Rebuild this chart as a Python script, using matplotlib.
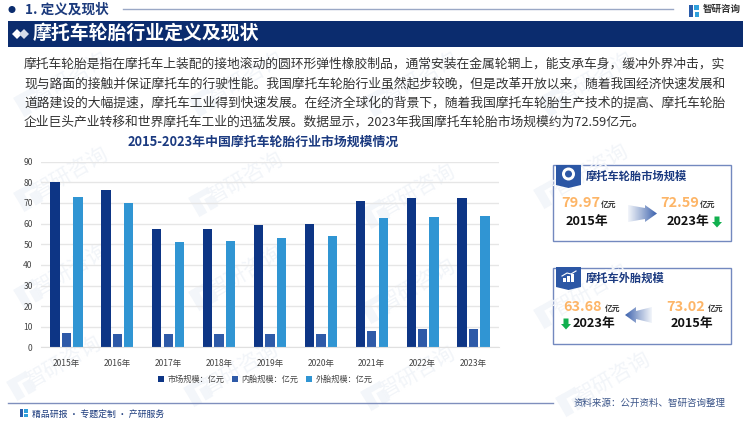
import numpy as np
import matplotlib
matplotlib.use('Agg')
from matplotlib import pyplot as plt
from matplotlib.patches import Polygon, Rectangle, Circle

plt.rcParams['font.family'] = ['Noto Sans CJK SC', 'DejaVu Sans']

years = ['2015年', '2016年', '2017年', '2018年', '2019年', '2020年', '2021年', '2022年', '2023年']
market = [79.97, 76.2, 57.2, 57.5, 59.1, 60.0, 71.0, 72.2, 72.59]
inner = [7.0, 6.5, 6.5, 6.5, 6.5, 6.5, 8.1, 8.9, 8.9]
outer = [73.02, 70.0, 51.0, 51.5, 53.0, 53.9, 62.8, 63.4, 63.68]
series_names = ['市场规模：亿元', '内胎规模：亿元', '外胎规模：亿元']
y_ticks = [0, 10, 20, 30, 40, 50, 60, 70, 80, 90]

body_lines = [
    '摩托车轮胎是指在摩托车上装配的接地滚动的圆环形弹性橡胶制品，通常安装在金属轮辋上，能支承车身，缓冲外界冲击，实',
    '现与路面的接触并保证摩托车的行驶性能。我国摩托车轮胎行业虽然起步较晚，但是改革开放以来，随着我国经济快速发展和',
    '道路建设的大幅提速，摩托车工业得到快速发展。在经济全球化的背景下，随着我国摩托车轮胎生产技术的提高、摩托车轮胎',
    '企业巨头产业转移和世界摩托车工业的迅猛发展。数据显示，2023年我国摩托车轮胎市场规模约为72.59亿元。',
]

NAVY = '#0B2C6E'
DARK = '#0D3585'
MID = '#2E5AA8'
LIGHT = '#3095D3'
ORANGE = '#FDB567'
GREEN = '#12B04F'
BORDER = '#7389BF'

fig = plt.figure(figsize=(7.5, 4.21), dpi=100)

# page layer in pixel coordinates
bg = fig.add_axes([0, 0, 1, 1], zorder=0)
bg.set_xlim(0, 750)
bg.set_ylim(421, 0)
bg.axis('off')


def watermark(x, y):
    bg.text(x, y, '智研咨询', fontsize=15, color='#F2F5F9', rotation=30, ha='center', va='center')
    # little bracket logo next to the text
    a = np.radians(30)
    cx, cy = x - 48 * np.cos(a), y + 48 * np.sin(a)
    for dx, dy, w, h in [(-11, -11, 9, 22), (-11, -11, 22, 6), (2, -2, 9, 13)]:
        pts = np.array([[dx, dy], [dx + w, dy], [dx + w, dy + h], [dx, dy + h]], float)
        rot = np.array([[np.cos(a), np.sin(a)], [-np.sin(a), np.cos(a)]])
        bg.add_patch(Polygon(pts @ rot.T + [cx, cy], color='#F3F6FA', lw=0))


for wx, wy in [(70, 78), (245, 78), (420, 78), (595, 78),
               (70, 173), (245, 178), (417, 190), (590, 170),
               (70, 270), (245, 272), (417, 285), (590, 290),
               (63, 362), (240, 368), (417, 372), (612, 378)]:
    watermark(wx, wy)

# header
bg.add_patch(Circle((12, 9.5), 3.5, color=NAVY, lw=0))
bg.text(25, 9.5, '1. 定义及现状', fontsize=9.8, fontweight='bold', color='#1B3A7C', va='center')
bg.plot([123, 673], [9, 9], color='#9AA8C6', lw=1)
bg.add_patch(Rectangle((689, 5), 4, 12, color='#2A5CAA', lw=0))
bg.add_patch(Rectangle((694, 5), 5, 5, color='#2FA0DC', lw=0))
bg.add_patch(Rectangle((695, 12), 4, 5, color='#2FA0DC', lw=0))
bg.text(703, 9, '智研咨询', fontsize=6.8, fontweight='bold', color='#333333', va='center')
bg.add_patch(Rectangle((8, 21), 735, 26, color=NAVY, lw=0))
bg.add_patch(Polygon([[12, 34], [17, 29], [22, 34], [17, 39]], color='white', lw=0))
bg.add_patch(Polygon([[19, 34], [24, 29], [29, 34], [24, 39]], color='#D5DCEA', lw=0))
bg.text(33, 33.5, '摩托车轮胎行业定义及现状', fontsize=13.6, fontweight='bold', color='white', va='center')

for line, ly in zip(body_lines, [64.5, 84, 103, 122]):
    bg.text(24, ly, line, fontsize=9.22, color='#333333', va='center')

bg.text(263, 141.5, '2015-2023年中国摩托车轮胎行业市场规模情况', fontsize=9.25, fontweight='bold',
        color='#1B3A80', ha='center', va='center')

# footer
bg.plot([8, 553], [403, 403], color='#7F8FBD', lw=1)
bg.add_patch(Rectangle((20, 409), 3, 8, color='#2A5CAA', lw=0))
bg.add_patch(Rectangle((24, 409), 4, 3.5, color='#2FA0DC', lw=0))
bg.add_patch(Rectangle((24, 414), 4, 3, color='#2FA0DC', lw=0))
bg.text(32, 414, '精品研报 · 专题定制 · 产研服务', fontsize=6.4, color='#1B3A7C', va='center')
bg.text(574, 403, '资料来源：公开资料、智研咨询整理', fontsize=6.8, color='#3A5488', va='center')


def gradient_arrow(pts, x0, x1, y0, y1, flip=False):
    grad = np.linspace(0, 1, 64).reshape(1, -1)
    if flip:
        grad = grad[:, ::-1]
    cmap = matplotlib.colors.LinearSegmentedColormap.from_list('a', ['#F2F5FA', '#9DB0D5', '#3C62AE'])
    im = bg.imshow(grad, extent=(x0, x1, y1, y0), cmap=cmap, aspect='auto', zorder=3)
    clip = Polygon(pts, transform=bg.transData, fc='none', ec='none')
    bg.add_patch(clip)
    im.set_clip_path(clip)


def panel(top, bottom, title, icon_top):
    bg.add_patch(Rectangle((553, top), 178, bottom - top, fc='white', ec=BORDER, lw=1, zorder=2))
    bg.add_patch(Polygon([[556, icon_top], [581, icon_top], [581, icon_top + 20], [568.5, icon_top + 23],
                          [556, icon_top + 20]], color='#2C57A5', lw=0, zorder=3))
    bg.text(586, icon_top + 11, title, fontsize=8.1, fontweight='bold', color='#1B3A80', va='center', zorder=3)


def down_arrow(x, y):
    bg.add_patch(Polygon([[x - 2.5, y - 5.5], [x + 2.5, y - 5.5], [x + 2.5, y], [x + 5, y], [x, y + 5.5],
                          [x - 5, y], [x - 2.5, y]], color=GREEN, lw=0, zorder=4))


def value(x, y, num, unit_x):
    bg.text(x, y, num, fontsize=10.4, fontweight='bold', color=ORANGE, va='center', zorder=4)
    bg.text(unit_x, y + 1, '亿元', fontsize=5.6, fontweight='bold', color='#333333', va='center', zorder=4)


def year_label(x, y, label):
    bg.text(x, y, label, fontsize=9.2, fontweight='bold', color='#111111', ha='center', va='center', zorder=4)


# upper panel
panel(165, 241, '摩托车轮胎市场规模', 165)
bg.add_patch(Circle((568.5, 174), 6.5, fc='white', ec='none', zorder=4))
bg.add_patch(Circle((568.5, 174), 3.5, fc='#2C57A5', ec='none', zorder=5))
value(561, 203, '79.97', 601)
year_label(587, 222, '2015年')
gradient_arrow([[628, 205], [645, 208], [645, 205], [657, 213.5], [645, 222], [645, 219], [628, 222]],
               628, 657, 205, 222)
value(660, 203, '72.59', 700)
year_label(687.5, 222, '2023年')
down_arrow(717, 222)

# lower panel
panel(268, 344, '摩托车外胎规模', 267)
for i, h in enumerate([4, 6, 8]):
    bg.add_patch(Rectangle((563 + i * 4, 282 - h), 2.5, h, color='white', lw=0, zorder=4))
bg.plot([562, 567, 571, 576], [276, 273, 274, 271], color='white', lw=0.8, zorder=4)
value(563, 307, '63.68', 605)
year_label(594, 324, '2023年')
down_arrow(566, 324)
gradient_arrow([[652, 307], [636, 311], [636, 307], [625, 315], [636, 323], [636, 319], [652, 323]],
               625, 652, 307, 323, flip=True)
value(666, 307, '73.02', 708)
year_label(691.5, 324, '2015年')

# chart, axes box in pixels: x 41-499, y 161.7-347.4
ax = fig.add_axes([41 / 750, 1 - 347.4 / 421, 458 / 750, 185.7 / 421], zorder=1)
ax.patch.set_alpha(0)
x = np.arange(len(years))
b1 = ax.bar(x - 0.225, market, 0.185, color=DARK, label=series_names[0])
b2 = ax.bar(x, inner, 0.185, color=MID, label=series_names[1])
b3 = ax.bar(x + 0.225, outer, 0.185, color=LIGHT, label=series_names[2])
ax.set_xlim(-0.5, len(years) - 0.5)
ax.set_ylim(0, 90)
ax.set_yticks(y_ticks)
ax.set_xticks(x, years)
ax.tick_params(axis='both', length=0, labelsize=6.1, labelcolor='#444444')
ax.tick_params(axis='x', pad=8)
ax.tick_params(axis='y', pad=6)
ax.grid(axis='y', color='#E6E6E6', lw=1)
ax.set_axisbelow(True)
for s in ['top', 'right', 'left']:
    ax.spines[s].set_visible(False)
ax.spines['bottom'].set_color('#E0E0E0')
ax.legend(loc='center', bbox_to_anchor=((265 - 41) / 458, -0.172), ncol=3, frameon=False, fontsize=5.9,
          labelcolor='#444444', handlelength=0.8, handleheight=0.8, handletextpad=0.4, columnspacing=0.9)

fig.savefig('out.png', dpi=100)
